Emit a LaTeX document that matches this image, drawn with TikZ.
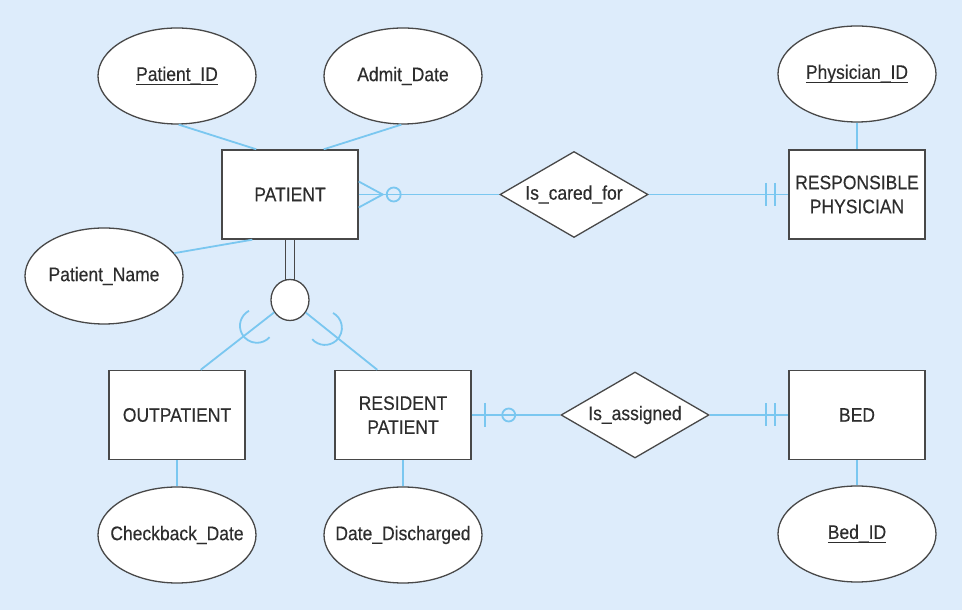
\documentclass[tikz,border=0pt]{standalone}
\usepackage{fontspec}
\setmainfont{Liberation Sans}[BoldFont=Liberation Sans, BoldFeatures={FakeBold=0.35}]
\usepackage{graphicx}
\usetikzlibrary{shapes.geometric,calc}
\definecolor{bgc}{RGB}{221,236,251}
\definecolor{lnc}{RGB}{122,199,240}
\definecolor{bdc}{RGB}{72,72,72}
\definecolor{txc}{RGB}{45,45,45}
\newcommand\tx[1]{\scalebox{1}[1.12]{#1}}
\newcommand\myul[1]{\setbox0=\hbox{#1}\rlap{\rule[-4pt]{\wd0}{1.3pt}}\box0}
\begin{document}
\begin{tikzpicture}[x=1pt,y=1pt,
  every node/.style={font=\fontsize{17.5}{24}\selectfont\bfseries, text=txc},
  ent/.style={rectangle,draw=bdc,fill=white,line width=1.4pt,minimum width=136pt,minimum height=89pt,inner sep=0pt,align=center},
  attr/.style={ellipse,draw=bdc,fill=white,line width=1.3pt,minimum width=158pt,minimum height=96pt,inner xsep=-30pt,inner ysep=-10pt},
  rel/.style={diamond,draw=bdc,fill=white,line width=1.3pt,minimum width=148pt,minimum height=86pt,aspect=1.72,inner sep=0pt},
  subc/.style={ellipse,draw=bdc,fill=white,line width=1.3pt,minimum width=38pt,minimum height=41pt,inner sep=0pt},
  conn/.style={draw=lnc,line width=1.8pt},
  dbl/.style={draw=bdc,line width=1.8pt}]
\useasboundingbox (0,0) rectangle (962,610);
\fill[bgc] (0,0) rectangle (962,610);

% entities
\node[ent] (patient) at (290,415.5) {\tx{PATIENT}};
\node[ent] (resp) at (857,415.5) {\tx{RESPONSIBLE}\\\tx{PHYSICIAN}};
\node[ent] (out) at (177,195) {\tx{OUTPATIENT}};
\node[ent] (res) at (403,195) {\tx{RESIDENT}\\\tx{PATIENT}};
\node[ent] (bed) at (857,195) {\tx{BED}};

% relationships
\node[rel] (icf) at (574,415.5) {\tx{Is\_cared\_for}};
\node[rel] (ias) at (635,195) {\tx{Is\_assigned}};

% attributes
\node[attr] (pid) at (177,534) {\tx{\myul{Patient\_ID}}};
\node[attr] (ad) at (403,534) {\tx{Admit\_Date}};
\node[attr] (pn) at (104,334) {\tx{Patient\_Name}};
\node[attr] (phid) at (857,536) {\tx{\myul{Physician\_ID}}};
\node[attr] (cd) at (177,75) {\tx{Checkback\_Date}};
\node[attr] (dd) at (403,75) {\tx{Date\_Discharged}};
\node[attr] (bid) at (857,76) {\tx{\myul{Bed\_ID}}};

% subtype circle
\node[subc] (sc) at (290,310) {};

% attribute connectors
\draw[conn] (pid.-88) -- ($(patient.north west)+(35,0)$);
\draw[conn] (ad.-92) -- ($(patient.north east)+(-35,0)$);
\draw[conn] (pn.18) -- ($(patient.south west)+(31,0)$);
\draw[conn] (phid.south) -- (resp.north);
\draw[conn] (out.south) -- (cd.north);
\draw[conn] (res.south) -- (dd.north);
\draw[conn] (bed.south) -- (bid.north);

% PATIENT -- Is_cared_for (crow's foot + circle)
\draw[conn] (patient.east) -- (icf.west);
\draw[conn] ($(patient.east)+(0,13)$) -- ($(patient.east)+(24,0)$) -- ($(patient.east)+(0,-13)$);
\draw[conn] ($(patient.east)+(35,0)$) circle[radius=7pt];

% Is_cared_for -- RESPONSIBLE PHYSICIAN (two bars)
\draw[conn] (icf.east) -- (resp.west);
\draw[conn] ($(resp.west)+(-22,11.5)$) -- ($(resp.west)+(-22,-11.5)$);
\draw[conn] ($(resp.west)+(-13,11.5)$) -- ($(resp.west)+(-13,-11.5)$);

% RESIDENT PATIENT -- Is_assigned (bar + circle)
\draw[conn] (res.east) -- (ias.west);
\draw[conn] ($(res.east)+(13,12)$) -- ($(res.east)+(13,-12)$);
\draw[conn] ($(res.east)+(37,0)$) circle[radius=6.5pt];

% Is_assigned -- BED (two bars)
\draw[conn] (ias.east) -- (bed.west);
\draw[conn] ($(bed.west)+(-22,11.5)$) -- ($(bed.west)+(-22,-11.5)$);
\draw[conn] ($(bed.west)+(-13,11.5)$) -- ($(bed.west)+(-13,-11.5)$);

% supertype double line
\draw[dbl] ($(patient.south)+(-4.5,0)$) -- ($(sc.center)+(-4.5,19.8)$);
\draw[dbl] ($(patient.south)+(4.5,0)$) -- ($(sc.center)+(4.5,19.8)$);

% subtype connectors
\coordinate (outtop) at ($(out.north east)+(-45,0)$);
\coordinate (restop) at ($(res.north west)+(43,0)$);
\draw[conn] (sc) -- (outtop);
\draw[conn] (sc) -- (restop);
\coordinate (la) at ($(sc.center)!0.37!(outtop)$);
\coordinate (ra) at ($(sc.center)!0.40!(restop)$);
\draw[conn] ($(la)+(118:17pt)$) arc[start angle=118, end angle=318, radius=17pt];
\draw[conn] ($(ra)+(221.5:17pt)$) arc[start angle=221.5, end angle=421.5, radius=17pt];
\end{tikzpicture}
\end{document}
